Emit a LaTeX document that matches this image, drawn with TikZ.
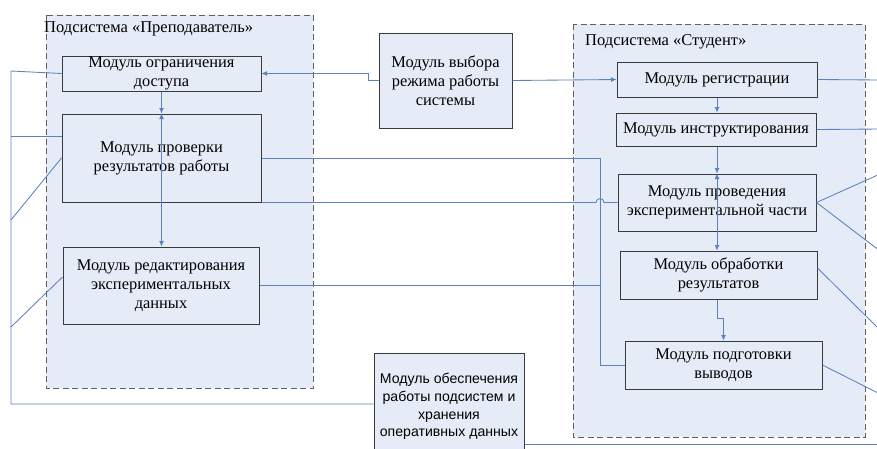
\documentclass[tikz,border=0pt]{standalone}
\usepackage{fontspec}
\setmainfont{Liberation Serif}
\newfontfamily\sansf{Liberation Sans}
\usetikzlibrary{arrows.meta,calc}
\definecolor{fillblue}{HTML}{E6ECF7}
\definecolor{lineblue}{HTML}{5A82C0}
\definecolor{boxline}{HTML}{3A3A3A}
\definecolor{frameline}{HTML}{606060}
\tikzset{
  modbox/.style={draw=boxline, line width=1pt, fill=fillblue, align=center, inner sep=0pt,
    font=\fontsize{16.4}{19.2}\selectfont},
  frame/.style={draw=frameline, line width=1pt, dash pattern=on 6pt off 3.5pt, fill=fillblue},
  conn/.style={draw=lineblue, line width=0.85pt},
  arr/.style={conn, -{Latex[length=5.5pt,width=5pt]}},
  title/.style={anchor=west, inner sep=0pt, font=\fontsize{16.5}{18}\selectfont}
}
\begin{document}
\begin{tikzpicture}[x=1pt,y=-1pt]
\clip (0,0) rectangle (877,448);
\fill[white] (0,0) rectangle (877,448);
% frames
\path[frame] (46,15) rectangle (313,388);
\path[frame] (573,24) rectangle (865,437);
\node[title] (tleft) at (44,29) {Подсистема «Преподаватель»};
\node[title] (tright) at (585,42) {Подсистема «Студент»};
% coordinates
\coordinate (bus) at (600,158);
\coordinate (lbtop) at (11,71);
\coordinate (lbbot) at (11,404);
\coordinate (l2) at (11,136);
\coordinate (l3) at (11,220);
\coordinate (l4) at (11,327);
\coordinate (r1) at (880,80);
\coordinate (r2) at (880,129);
\coordinate (r3) at (880,174);
\coordinate (r4) at (880,251);
\coordinate (r5) at (880,330);
\coordinate (r6) at (880,394);
\coordinate (r7) at (880,444);
% boxes
\node[modbox, minimum width=199, minimum height=35] (dost) at (161.5,73.5) {Модуль ограничения\\доступа};
\node[modbox, minimum width=199, minimum height=88] (prov) at (161.5,158) {Модуль проверки\\результатов работы};
\node[modbox, minimum width=196, minimum height=77] (red) at (161,285.5) {Модуль редактирования\\экспериментальных\\данных};
\node[modbox, minimum width=133, minimum height=95] (mode) at (445.5,80.5) {Модуль выбора\\режима работы\\системы};
\node[modbox, minimum width=200, minimum height=35] (reg) at (717,79.5) {Модуль регистрации};
\node[modbox, minimum width=200, minimum height=33] (instr) at (716,129.5) {Модуль инструктирования};
\node[modbox, minimum width=198, minimum height=57] (exp) at (717,202.5) {Модуль проведения\\экспериментальной части};
\node[modbox, minimum width=197, minimum height=48] (proc) at (718.5,275) {Модуль обработки\\результатов};
\node[modbox, minimum width=197, minimum height=48] (concl) at (723.5,365) {Модуль подготовки\\выводов};
\node[modbox, minimum width=150, minimum height=107, font=\sansf\fontsize{14.1}{17.6}\selectfont] (store) at (449,406.5) {Модуль обеспечения\\работы подсистем и\\хранения\\оперативных данных};
% connectors between subsystems
\draw[arr] (mode.west) -- ++(-10,0) |- (dost.east);
\draw[arr] (mode.east) -- (reg.west);
\draw[conn] (prov.east) -- (bus) |- (concl.west);
\draw[conn] (red.east) -- (red.east -| bus);
\draw[conn] (prov.south east) -- ($(prov.south east -| bus)+(-4,0)$) arc[start angle=180, end angle=0, radius=4pt] -- (prov.south east -| exp.west);
% left bus
\draw[conn] (dost.west) -- (lbtop) -- (lbbot) -- (lbbot -| store.west);
\draw[conn] (prov.west |- l2) -- (l2);
\draw[conn] (prov.west) -- (l3);
\draw[conn] ([yshift=8.5pt]red.west) -- (l4);
% right outgoing
\draw[conn] (reg.east) -- (r1);
\draw[conn] (instr.east) -- (r2);
\draw[conn] (exp.east) -- (r3);
\draw[conn] (exp.east) -- (r4);
\draw[conn] ([yshift=7pt]proc.east) -- (r5);
\draw[conn] (concl.east) -- (r6);
\draw[conn] ([yshift=-37.5pt]store.east) -- (r7);
% vertical arrows left
\draw[arr] (dost.south) -- (prov.north);
\draw[arr] (prov.south) -- (prov.north);
\draw[arr] (prov.south) -- (prov.south |- red.north);
% vertical arrows right
\draw[arr] (reg.south) -- (reg.south |- instr.north);
\draw[arr] (instr.south -| reg.south) -- (reg.south |- exp.north);
\draw[arr] (reg.south |- exp.south) -- (reg.south |- exp.north);
\draw[arr] (reg.south |- exp.south) -- (reg.south |- proc.north);
\draw[arr] (reg.south |- proc.south) -- ++(0,19) -| (concl.north);
\end{tikzpicture}
\end{document}
